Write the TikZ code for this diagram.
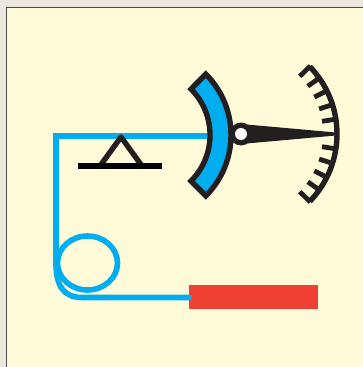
\documentclass[tikz,border=0pt]{standalone}
\usepackage{tikz}
\definecolor{paper}{HTML}{FFFBD8}
\definecolor{frame}{HTML}{EDE9E0}
\definecolor{b}{HTML}{00AEEF}
\definecolor{k}{HTML}{231F20}
\definecolor{r}{HTML}{F04034}
\tikzset{pipe/.style={draw=b,line width=5.6pt},ink/.style={draw=k,line width=5.4pt}}
\begin{document}
\begin{tikzpicture}[x=1pt,y=-1pt]
  \useasboundingbox (0,0) rectangle (363,367);
  \fill[frame] (0,0) rectangle (363,367);
  \fill[paper] (6.5,7) rectangle (363,367);
  \draw[black!70,line width=1pt] (6.5,367) -- (6.5,7) -- (363,7);
  % capillary and bulb
  \draw[pipe] (87.5,263) ellipse [x radius=30,y radius=27];
  \draw[pipe,line join=miter] (208,136) -- (56,136) -- (56,264)
    .. controls (56,286) and (64,297.5) .. (82,297.5) -- (192,297.5);
  \fill[r] (189,285) rectangle (318,309);
  \draw[pipe] (180,297.5) -- (192,297.5);
  % balance
  \draw[ink,line join=round] (100,166) -- (121,137) -- (142,166);
  \draw[black,line width=5.4pt] (78,166) -- (162,166);
  % bourdon tube
  \draw[ink,fill=b,line join=miter] (145,135) ++(-45:86) arc[start angle=-45,end angle=45,radius=86]
    -- (191,181) arc[start angle=45,end angle=-45,radius=65] -- cycle;
  % pointer
  \fill[k] (241,134) circle (11.5);
  \fill[k] (241,124) -- (336,132.5) -- (336,135.5) -- (241,144) -- cycle;
  \fill[white] (241,134) circle (6);
  % scale
  \draw[ink] (240,134) ++(-44:97) arc[start angle=-44,end angle=44,radius=97];
  \foreach \i in {1,2,3,4,5,7,8,9,10,11}
    \draw[ink,line width=4.8pt] (240,134) ++({(\i-6)*8.8}:83) -- ++({(\i-6)*8.8}:15);
\end{tikzpicture}
\end{document}
